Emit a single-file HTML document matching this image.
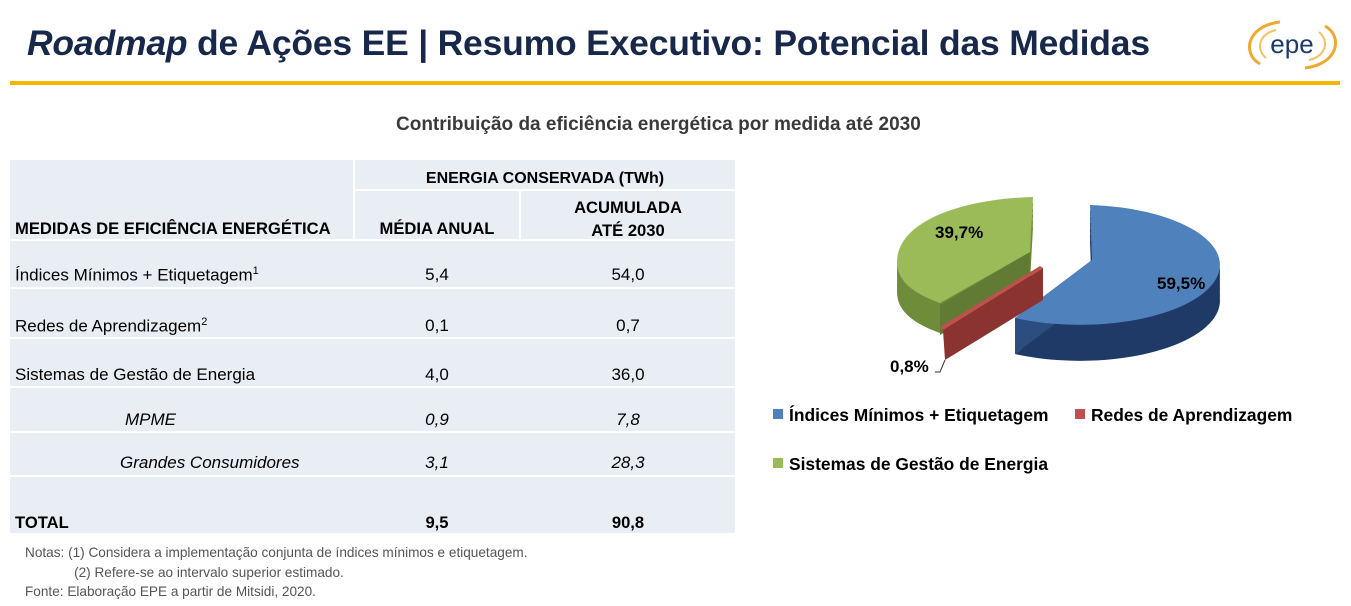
<!DOCTYPE html>
<html><head><meta charset="utf-8"><style>
body{margin:0;width:1351px;height:606px;background:#fff;position:relative;overflow:hidden;font-family:"Liberation Sans",sans-serif;color:#000}
.a{position:absolute;white-space:nowrap}
.b{font-weight:bold}
.cell{position:absolute;background:#e9edf4}
.c{text-align:center}
</style></head><body>
<div class="a b" style="left:27px;top:23px;font-size:35.5px;color:#17284a;letter-spacing:-0.2px"><i>Roadmap</i> de Ações EE | Resumo Executivo: Potencial das Medidas</div>
<svg class="a" style="left:1240px;top:14px" width="105" height="62" viewBox="0 0 105 62">
<path d="M20,50 C2,40 6,12 40,8" fill="none" stroke="#f0a830" stroke-width="3"/>
<path d="M85,12 C103,22 99,50 65,54" fill="none" stroke="#f0a830" stroke-width="3"/>
<path d="M26,44 C16,36 18,20 36,16" fill="none" stroke="#f5c060" stroke-width="2"/>
<path d="M79,18 C89,26 87,42 69,46" fill="none" stroke="#f5c060" stroke-width="2"/>
<text x="52" y="39" text-anchor="middle" font-family="Liberation Sans" font-size="26" fill="#1c3a6e">epe</text>
</svg>
<div class="a" style="left:10px;top:81px;width:1330px;height:4px;background:#f5b800"></div>
<div class="a b" style="left:396px;top:114px;font-size:19px;color:#3a3a3a">Contribuição da eficiência energética por medida até 2030</div>

<div class="cell" style="left:10px;top:160px;width:343px;height:79px"></div>
<div class="cell" style="left:355px;top:160px;width:380px;height:29px"></div>
<div class="cell" style="left:355px;top:191px;width:164px;height:48px"></div>
<div class="cell" style="left:521px;top:191px;width:214px;height:48px"></div>
<div class="cell" style="left:10px;top:241px;width:725px;height:46px"></div>
<div class="cell" style="left:10px;top:289px;width:725px;height:48px"></div>
<div class="cell" style="left:10px;top:339px;width:725px;height:47px"></div>
<div class="cell" style="left:10px;top:388px;width:725px;height:43px"></div>
<div class="cell" style="left:10px;top:433px;width:725px;height:42px"></div>
<div class="cell" style="left:10px;top:477px;width:725px;height:56px"></div>

<div class="a b c" style="left:355px;top:170px;width:380px;font-size:16px">ENERGIA CONSERVADA (TWh)</div>
<div class="a b" style="left:15px;top:219px;font-size:16.6px">MEDIDAS DE EFICIÊNCIA ENERGÉTICA</div>
<div class="a b c" style="left:355px;top:219px;width:164px;font-size:16.6px">MÉDIA ANUAL</div>
<div class="a b c" style="left:521px;top:196px;width:214px;font-size:16.6px;line-height:23px">ACUMULADA<br>ATÉ 2030</div>

<div class="a" style="left:15px;top:265px;font-size:17px">Índices Mínimos + Etiquetagem<sup style="font-size:11px">1</sup></div>
<div class="a c" style="left:355px;top:265px;width:164px;font-size:17px">5,4</div>
<div class="a c" style="left:521px;top:265px;width:214px;font-size:17px">54,0</div>
<div class="a" style="left:15px;top:316px;font-size:17px">Redes de Aprendizagem<sup style="font-size:11px">2</sup></div>
<div class="a c" style="left:355px;top:316px;width:164px;font-size:17px">0,1</div>
<div class="a c" style="left:521px;top:316px;width:214px;font-size:17px">0,7</div>
<div class="a" style="left:15px;top:365px;font-size:17px">Sistemas de Gestão de Energia</div>
<div class="a c" style="left:355px;top:365px;width:164px;font-size:17px">4,0</div>
<div class="a c" style="left:521px;top:365px;width:214px;font-size:17px">36,0</div>
<div class="a" style="left:125px;top:410px;font-size:17px;font-style:italic">MPME</div>
<div class="a c" style="left:355px;top:410px;width:164px;font-size:17px;font-style:italic">0,9</div>
<div class="a c" style="left:521px;top:410px;width:214px;font-size:17px;font-style:italic">7,8</div>
<div class="a" style="left:120px;top:453px;font-size:17px;font-style:italic">Grandes Consumidores</div>
<div class="a c" style="left:355px;top:453px;width:164px;font-size:17px;font-style:italic">3,1</div>
<div class="a c" style="left:521px;top:453px;width:214px;font-size:17px;font-style:italic">28,3</div>
<div class="a b" style="left:15px;top:513px;font-size:16.6px">TOTAL</div>
<div class="a b c" style="left:355px;top:513px;width:164px;font-size:16.6px">9,5</div>
<div class="a b c" style="left:521px;top:513px;width:214px;font-size:16.6px">90,8</div>

<div class="a" style="left:25px;top:543px;font-size:13.6px;color:#555;line-height:19.5px">Notas: (1) Considera a implementação conjunta de índices mínimos e etiquetagem.<br>&nbsp;&nbsp;&nbsp;&nbsp;&nbsp;&nbsp;&nbsp;&nbsp;&nbsp;&nbsp;&nbsp;&nbsp;&nbsp;(2) Refere-se ao intervalo superior estimado.<br>Fonte: Elaboração EPE a partir de Mitsidi, 2020.</div>

<svg class="a" style="left:0;top:0" width="1351" height="606">
<defs>
<path id="bl" d="M1092,260 L1090,205 A140,60 0 1,1 1015,318 Z"/>
<path id="gr" d="M1030,252 L1033,197 C960,199 897,222 897,262 C897,282 915,294 940,303 Z"/>
</defs>
<g fill="#1f3a66">
<use href="#bl" transform="translate(0,36)"/><use href="#bl" transform="translate(0,30)"/><use href="#bl" transform="translate(0,24)"/><use href="#bl" transform="translate(0,18)"/><use href="#bl" transform="translate(0,12)"/><use href="#bl" transform="translate(0,6)"/>
</g>
<path d="M1092,260 L1015,318 L1015,354 L1092,296 Z" fill="#2c4d80"/>
<use href="#bl" fill="#4f81bd"/>
<g fill="#6f8c3a">
<use href="#gr" transform="translate(0,30)"/><use href="#gr" transform="translate(0,24)"/><use href="#gr" transform="translate(0,18)"/><use href="#gr" transform="translate(0,12)"/><use href="#gr" transform="translate(0,6)"/>
</g>
<path d="M1030,252 L940,305 L940,335 L1030,282 Z" fill="#617b35"/>
<use href="#gr" fill="#9bbb59"/>
<path d="M943,330 L1043,268 L1043,300 L945,360 Z" fill="#8b3330"/>
<path d="M943,330 L1043,268 L1040,266 L940,327 Z" fill="#c0504d"/>
<path d="M945,360 L940,372 L935,372" fill="none" stroke="#333" stroke-width="1"/>
<text x="935" y="238" font-size="17" font-weight="bold" font-family="Liberation Sans">39,7%</text>
<text x="1157" y="289" font-size="17" font-weight="bold" font-family="Liberation Sans">59,5%</text>
<text x="890" y="372" font-size="17" font-weight="bold" font-family="Liberation Sans">0,8%</text>
<rect x="773" y="409" width="10" height="10" fill="#4f81bd"/>
<text x="789" y="421" font-size="17.4" font-weight="bold" font-family="Liberation Sans">Índices Mínimos + Etiquetagem</text>
<rect x="1075" y="409" width="10" height="10" fill="#c0504d"/>
<text x="1091" y="421" font-size="17.4" font-weight="bold" font-family="Liberation Sans">Redes de Aprendizagem</text>
<rect x="773" y="458" width="10" height="10" fill="#9bbb59"/>
<text x="789" y="470" font-size="17.4" font-weight="bold" font-family="Liberation Sans">Sistemas de Gestão de Energia</text>
</svg>
</body></html>
